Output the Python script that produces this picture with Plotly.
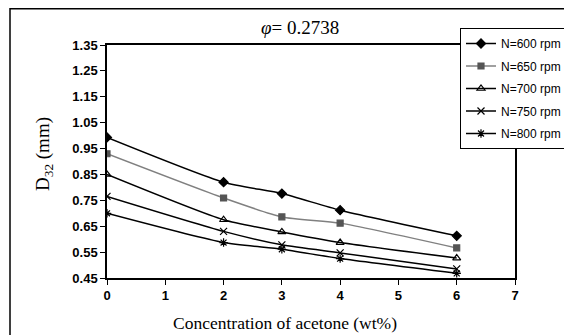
import plotly.graph_objects as go

x_vals = [0, 2, 3, 4, 6]
n600 = [0.993, 0.820, 0.776, 0.712, 0.613]
n650 = [0.930, 0.759, 0.686, 0.662, 0.566]
n700 = [0.850, 0.675, 0.628, 0.587, 0.527]
n750 = [0.765, 0.630, 0.578, 0.547, 0.485]
n800 = [0.700, 0.587, 0.561, 0.525, 0.468]
names = ["N=600 rpm", "N=650 rpm", "N=700 rpm", "N=750 rpm", "N=800 rpm"]
y_ticks = [0.45, 0.55, 0.65, 0.75, 0.85, 0.95, 1.05, 1.15, 1.25, 1.35]
x_ticks = [0, 1, 2, 3, 4, 5, 6, 7]

series = [n600, n650, n700, n750, n800]
styles = [
    dict(color="black", symbol="diamond", mcolor="black", size=7),
    dict(color="#808080", symbol="square", mcolor="#555555", size=6),
    dict(color="black", symbol="triangle-up-open", mcolor="black", size=7),
    dict(color="black", symbol="x-thin-open", mcolor="black", size=7),
    dict(color="black", symbol="asterisk-open", mcolor="black", size=7),
]

fig = go.Figure()
for i, (name, ys, st) in enumerate(zip(names, series, styles)):
    fig.add_trace(go.Scatter(
        x=x_vals, y=ys, name=name, mode="lines+markers", legendgroup=f"g{i}",
        line=dict(color=st["color"], width=1.5, shape="spline", smoothing=0.6),
        marker=dict(symbol=st["symbol"], color=st["mcolor"], size=st["size"],
                    line=dict(color=st["mcolor"], width=1.2)),
    ))

W, H = 572, 335
O = 8  # page body offset
L, R, T, B = 107 - O, 65, 45 - O, 65
pw, ph = W - L - R, H - T - B

def px(xs):
    return (xs - O - L) / pw

def py(ys):
    return (H - B - (ys - O)) / ph

tick_font = dict(family="Liberation Sans, Arial", size=13, color="black", weight="bold")

fig.update_layout(
    width=W, height=H,
    margin=dict(l=L, r=R, t=T, b=B, autoexpand=False),
    paper_bgcolor="white", plot_bgcolor="white",
    showlegend=True,
    legend=dict(x=px(460), y=py(28), xanchor="left", yanchor="top",
                bgcolor="white", bordercolor="black", borderwidth=1,
                font=dict(family="Liberation Sans, Arial", size=12, color="black"),
                tracegroupgap=3.5, itemwidth=30),
    xaxis=dict(range=[0, 7], tickvals=x_ticks, ticktext=[str(t) for t in x_ticks],
               showgrid=False, zeroline=False, showline=True, linecolor="black",
               linewidth=1.5, mirror=True, ticks="outside", ticklen=5,
               tickcolor="black", tickwidth=1.2, tickfont=tick_font, automargin=False),
    yaxis=dict(range=[0.45, 1.35], tickvals=y_ticks,
               ticktext=[f"{t:.2f}" for t in y_ticks],
               showgrid=False, zeroline=False, showline=True, linecolor="black",
               linewidth=1.5, mirror=True, ticks="outside", ticklen=5,
               tickcolor="black", tickwidth=1.2, tickfont=tick_font, automargin=False),
    shapes=[dict(type="rect", xref="paper", yref="paper",
                 x0=px(10), x1=px(590), y0=py(360), y1=py(8.8),
                 line=dict(color="black", width=1.5), layer="below")],
    annotations=[
        dict(text="<i>φ</i>= 0.2738", xref="paper", yref="paper",
             x=px(300), y=py(27), xanchor="center", yanchor="middle",
             showarrow=False,
             font=dict(family="Liberation Serif, Times New Roman", size=19, color="black")),
        dict(text="D<sub>32</sub> (mm)", xref="paper", yref="paper",
             x=px(44), y=py(154), xanchor="center", yanchor="middle",
             textangle=-90, showarrow=False,
             font=dict(family="Liberation Serif, Times New Roman", size=19, color="black")),
        dict(text="Concentration of acetone (wt%)", xref="paper", yref="paper",
             x=px(285), y=py(323), xanchor="center", yanchor="middle",
             showarrow=False,
             font=dict(family="Liberation Serif, Times New Roman", size=17.5, color="black")),
    ],
)

fig.write_html("out.html")
